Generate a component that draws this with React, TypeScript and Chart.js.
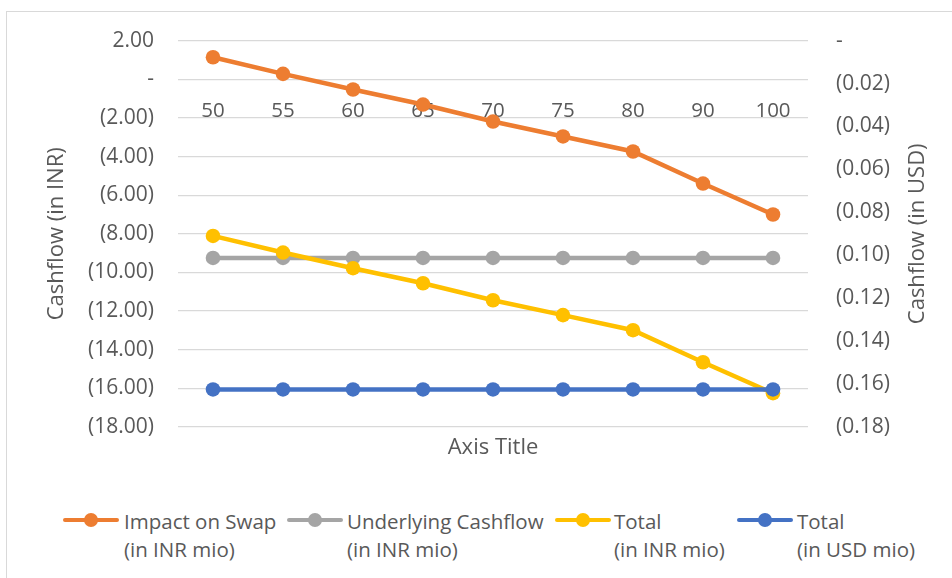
import React, { useEffect, useRef } from "react";
import { Chart, registerables } from "chart.js";

Chart.register(...registerables);

// ---- data ----
const categories = ["50", "55", "60", "65", "70", "75", "80", "90", "100"];
const impactOnSwapINR = [1.14, 0.28, -0.53, -1.31, -2.19, -2.96, -3.74, -5.4, -7.0];
const underlyingCashflowINR = [-9.25, -9.25, -9.25, -9.25, -9.25, -9.25, -9.25, -9.25, -9.25];
const totalINR = [-8.11, -8.97, -9.78, -10.56, -11.44, -12.21, -12.99, -14.65, -16.25];
const totalUSD = [-0.1625, -0.1625, -0.1625, -0.1625, -0.1625, -0.1625, -0.1625, -0.1625, -0.1625];

const seriesNames = [
  ["Impact on Swap", "(in INR mio)"],
  ["Underlying Cashflow", "(in INR mio)"],
  ["Total", "(in INR mio)"],
  ["Total", "(in USD mio)"],
];
const seriesColors = ["#ED7D31", "#A5A5A5", "#FFC000", "#4472C4"];

const leftAxisTitle = "Cashflow (in INR)";
const rightAxisTitle = "Cashflow (in USD)";
const xAxisTitle = "Axis Title";

const leftMin = -18;
const leftMax = 2;
const leftStep = 2;
const rightMin = -0.18;
const rightMax = 0;
const rightStep = 0.02;

const FONT = "'Open Sans', sans-serif";
const TEXT = "#595959";

function fmtAcc(v: number): string {
  if (Math.abs(v) < 1e-9) return "-";
  const s = Math.abs(v).toFixed(2);
  return v < 0 ? "(" + s + ")" : s;
}

// legend item horizontal placement (marker start, text start)
const legendPos = [
  { line: 63, text: 124 },
  { line: 287, text: 347 },
  { line: 555, text: 614 },
  { line: 737, text: 797 },
];

// right axis title drawn reading bottom-to-top (like the left one)
const rightTitlePlugin = {
  id: "rightTitle",
  afterDraw(chart: any) {
    const { ctx, chartArea } = chart;
    ctx.save();
    ctx.translate(chart.width - 34, (chartArea.top + chartArea.bottom) / 2);
    ctx.rotate(-Math.PI / 2);
    ctx.textAlign = "center";
    ctx.textBaseline = "middle";
    ctx.fillStyle = TEXT;
    ctx.font = "22px " + FONT;
    ctx.fillText(rightAxisTitle, 0, 0);
    ctx.restore();
  },
};

export default function App() {
  const ref = useRef<HTMLCanvasElement | null>(null);

  useEffect(() => {
    if (!ref.current) return;
    const mk = (label: string, data: number[], color: string, axis: string, order: number) => ({
      label,
      data,
      borderColor: color,
      backgroundColor: color,
      pointBackgroundColor: color,
      pointBorderColor: color,
      pointBorderWidth: 0,
      pointRadius: 7.3,
      borderWidth: 4.5,
      tension: 0,
      yAxisID: axis,
      order,
    });
    const chart = new Chart(ref.current, {
      type: "line",
      data: {
        labels: categories,
        datasets: [
          mk(seriesNames[0].join(" "), impactOnSwapINR, seriesColors[0], "y", 4),
          mk(seriesNames[1].join(" "), underlyingCashflowINR, seriesColors[1], "y", 3),
          mk(seriesNames[2].join(" "), totalINR, seriesColors[2], "y", 2),
          mk(seriesNames[3].join(" "), totalUSD, seriesColors[3], "y1", 1),
        ],
      },
      plugins: [rightTitlePlugin],
      options: {
        animation: false,
        responsive: false,
        maintainAspectRatio: false,
        layout: { padding: { left: 0, right: 0, top: 40, bottom: 0 } },
        plugins: {
          legend: { display: false },
          tooltip: { enabled: false },
        },
        scales: {
          x: {
            type: "category",
            position: { y: 0 } as any,
            offset: true,
            grid: { display: false, drawTicks: false },
            border: { display: false },
            ticks: {
              color: TEXT,
              font: { family: FONT, size: 20.5 },
              padding: 20,
              maxRotation: 0,
              autoSkip: false,
            },
          },
          x2: {
            type: "category",
            position: "bottom",
            labels: categories,
            grid: { display: false, drawTicks: false },
            border: { display: false },
            ticks: { display: false },
            title: {
              display: true,
              text: xAxisTitle,
              color: TEXT,
              font: { family: FONT, size: 22 },
              padding: { top: 9, bottom: 9 },
            },
            afterFit: (s: any) => {
              s.height = 43;
            },
          },
          y: {
            type: "linear",
            position: "left",
            min: leftMin,
            max: leftMax,
            grid: { color: "#d9d9d9", lineWidth: 1.3, drawTicks: false },
            border: { display: false },
            ticks: {
              stepSize: leftStep,
              color: TEXT,
              font: { family: FONT, size: 21 },
              padding: 24,
              callback: (v: any) => fmtAcc(Number(v)),
            },
            title: {
              display: true,
              text: leftAxisTitle,
              color: TEXT,
              font: { family: FONT, size: 22 },
              padding: { top: 44, bottom: 0 },
            },
            afterFit: (s: any) => {
              s.width = 178;
            },
          },
          y1: {
            type: "linear",
            position: "right",
            min: rightMin,
            max: rightMax,
            grid: { display: false, drawTicks: false },
            border: { display: false },
            ticks: {
              stepSize: rightStep,
              color: TEXT,
              font: { family: FONT, size: 21 },
              padding: 28,
              callback: (v: any) => fmtAcc(Number(v)),
            },
            title: { display: false },
            afterFit: (s: any) => {
              s.width = 144;
            },
          },
        },
      } as any,
    });
    return () => chart.destroy();
  }, []);

  return (
    <div
      style={{
        position: "absolute",
        left: 0,
        top: 0,
        width: 952,
        height: 578,
        overflow: "hidden",
        background: "#fff",
        fontFamily: FONT,
      }}
    >
      <div
        style={{
          position: "absolute",
          left: 6,
          top: 11,
          width: 1100,
          height: 1100,
          border: "1px solid #d9d9d9",
        }}
      />
      <canvas ref={ref} width={952} height={470} style={{ position: "absolute", left: 0, top: 0 }} />
      {seriesNames.map((name, i) => {
        const p = legendPos[i];
        return (
          <React.Fragment key={i}>
            <div
              style={{
                position: "absolute",
                left: p.line,
                top: 520 - 2.25,
                width: 56,
                height: 4.5,
                background: seriesColors[i],
                borderRadius: 2,
              }}
            />
            <div
              style={{
                position: "absolute",
                left: p.line + 28 - 7.3,
                top: 520 - 7.3,
                width: 14.6,
                height: 14.6,
                borderRadius: "50%",
                background: seriesColors[i],
              }}
            />
            <div
              style={{
                position: "absolute",
                left: p.text,
                top: 506.5,
                fontSize: 20.5,
                lineHeight: "28.5px",
                color: TEXT,
                whiteSpace: "nowrap",
              }}
            >
              {name[0]}
              <br />
              {name[1]}
            </div>
          </React.Fragment>
        );
      })}
    </div>
  );
}
